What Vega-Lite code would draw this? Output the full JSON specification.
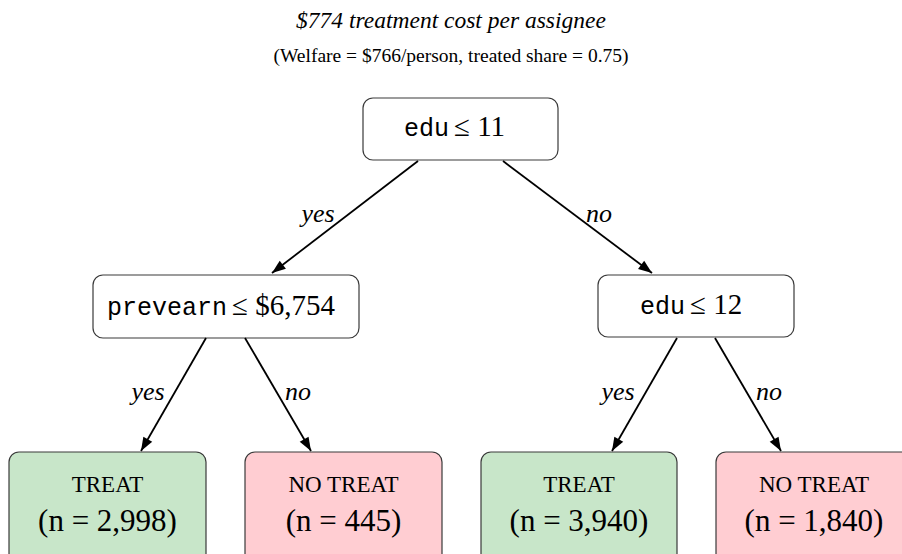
{
  "$schema": "https://vega.github.io/schema/vega-lite/v6.json",
  "width": 902,
  "height": 484,
  "autosize": {"type": "none"},
  "padding": {"left": 0, "right": 0, "top": 70, "bottom": 0},
  "background": "white",
  "title": {
    "text": "$774 treatment cost per assignee",
    "subtitle": "(Welfare = $766/person, treated share = 0.75)",
    "anchor": "middle",
    "frame": "group",
    "font": "Liberation Serif",
    "fontSize": 23.5,
    "fontStyle": "italic",
    "fontWeight": "normal",
    "color": "black",
    "subtitleFont": "Liberation Serif",
    "subtitleFontSize": 19.5,
    "subtitleColor": "black",
    "subtitlePadding": 14,
    "offset": 5
  },
  "config": {"view": {"stroke": null}},
  "datasets": {
    "nodes": [
      {"node": "root", "kind": "split", "x0": 363, "x1": 558, "y0": 98, "y1": 160, "lx": 450, "ly": 136, "var": "edu", "cond": "≤ 11"},
      {"node": "left", "kind": "split", "x0": 93, "x1": 359, "y0": 275, "y1": 338, "lx": 228, "ly": 315, "var": "prevearn", "cond": "≤ $6,754"},
      {"node": "right", "kind": "split", "x0": 598, "x1": 794, "y0": 275, "y1": 337, "lx": 686, "ly": 314, "var": "edu", "cond": "≤ 12"},
      {"node": "leaf1", "kind": "Treat", "x0": 9, "x1": 206, "y0": 452, "y1": 564, "cx": 107.5, "ly1": 492, "ly2": 531, "action": "TREAT", "count": "(n = 2,998)"},
      {"node": "leaf2", "kind": "No Treat", "x0": 245, "x1": 442, "y0": 452, "y1": 564, "cx": 343.5, "ly1": 492, "ly2": 531, "action": "NO TREAT", "count": "(n = 445)"},
      {"node": "leaf3", "kind": "Treat", "x0": 481, "x1": 677, "y0": 452, "y1": 564, "cx": 579, "ly1": 492, "ly2": 531, "action": "TREAT", "count": "(n = 3,940)"},
      {"node": "leaf4", "kind": "No Treat", "x0": 716, "x1": 912, "y0": 452, "y1": 564, "cx": 814, "ly1": 492, "ly2": 531, "action": "NO TREAT", "count": "(n = 1,840)"}
    ],
    "edges": [
      {"from": "root", "to": "left", "x1": 418, "y1": 161, "x2": 272, "y2": 273, "label": "yes", "tx": 318, "ty": 222},
      {"from": "root", "to": "right", "x1": 503, "y1": 161, "x2": 652, "y2": 273, "label": "no", "tx": 599, "ty": 222},
      {"from": "left", "to": "leaf1", "x1": 206, "y1": 338, "x2": 141, "y2": 451, "label": "yes", "tx": 148, "ty": 400},
      {"from": "left", "to": "leaf2", "x1": 245, "y1": 338, "x2": 311, "y2": 451, "label": "no", "tx": 298, "ty": 400},
      {"from": "right", "to": "leaf3", "x1": 677, "y1": 338, "x2": 612, "y2": 451, "label": "yes", "tx": 618, "ty": 400},
      {"from": "right", "to": "leaf4", "x1": 715, "y1": 338, "x2": 781, "y2": 451, "label": "no", "tx": 769, "ty": 400}
    ]
  },
  "layer": [
    {
      "data": {"name": "nodes"},
      "mark": {"type": "rect", "cornerRadius": 10, "stroke": "#3a3a3a", "strokeWidth": 1.2},
      "encoding": {
        "x": {"field": "x0", "type": "quantitative", "scale": {"domain": [0, 902], "nice": false, "zero": false}, "axis": null},
        "x2": {"field": "x1"},
        "y": {"field": "y0", "type": "quantitative", "scale": {"domain": [70, 554], "nice": false, "zero": false, "reverse": true}, "axis": null},
        "y2": {"field": "y1"},
        "fill": {"field": "kind", "type": "nominal", "scale": {"domain": ["split", "Treat", "No Treat"], "range": ["#ffffff", "#c8e6c9", "#ffcdd2"]}, "legend": null}
      }
    },
    {
      "data": {"name": "edges"},
      "mark": {"type": "rule", "color": "black", "strokeWidth": 1.8},
      "encoding": {
        "x": {"field": "x1", "type": "quantitative", "scale": {"domain": [0, 902], "nice": false, "zero": false}, "axis": null},
        "y": {"field": "y1", "type": "quantitative", "scale": {"domain": [70, 554], "nice": false, "zero": false, "reverse": true}, "axis": null},
        "x2": {"field": "x2"},
        "y2": {"field": "y2"}
      }
    },
    {
      "data": {"name": "edges"},
      "transform": [{"calculate": "atan2(datum.x2 - datum.x1, datum.y1 - datum.y2) * 180 / PI", "as": "ang"}],
      "mark": {"type": "point", "shape": "M0,0L0.6,1.6L-0.6,1.6Z", "filled": true, "color": "black", "opacity": 1, "size": 290, "strokeWidth": 0},
      "encoding": {
        "x": {"field": "x2", "type": "quantitative", "scale": {"domain": [0, 902], "nice": false, "zero": false}, "axis": null},
        "y": {"field": "y2", "type": "quantitative", "scale": {"domain": [70, 554], "nice": false, "zero": false, "reverse": true}, "axis": null},
        "angle": {"field": "ang", "type": "quantitative", "scale": null}
      }
    },
    {
      "data": {"name": "edges"},
      "mark": {"type": "text", "font": "Liberation Serif", "fontStyle": "italic", "fontSize": 26, "align": "center", "baseline": "alphabetic", "color": "black"},
      "encoding": {
        "x": {"field": "tx", "type": "quantitative", "scale": {"domain": [0, 902], "nice": false, "zero": false}, "axis": null},
        "y": {"field": "ty", "type": "quantitative", "scale": {"domain": [70, 554], "nice": false, "zero": false, "reverse": true}, "axis": null},
        "text": {"field": "label"}
      }
    },
    {
      "data": {"name": "nodes"},
      "transform": [{"filter": "datum.kind === 'split'"}],
      "mark": {"type": "text", "font": "Liberation Mono", "fontSize": 25, "align": "right", "baseline": "alphabetic", "color": "black", "dx": -1},
      "encoding": {
        "x": {"field": "lx", "type": "quantitative", "scale": {"domain": [0, 902], "nice": false, "zero": false}, "axis": null},
        "y": {"field": "ly", "type": "quantitative", "scale": {"domain": [70, 554], "nice": false, "zero": false, "reverse": true}, "axis": null},
        "text": {"field": "var"}
      }
    },
    {
      "data": {"name": "nodes"},
      "transform": [{"filter": "datum.kind === 'split'"}],
      "mark": {"type": "text", "font": "Liberation Serif", "fontSize": 29, "align": "left", "baseline": "alphabetic", "color": "black", "dx": 4},
      "encoding": {
        "x": {"field": "lx", "type": "quantitative", "scale": {"domain": [0, 902], "nice": false, "zero": false}, "axis": null},
        "y": {"field": "ly", "type": "quantitative", "scale": {"domain": [70, 554], "nice": false, "zero": false, "reverse": true}, "axis": null},
        "text": {"field": "cond"}
      }
    },
    {
      "data": {"name": "nodes"},
      "transform": [{"filter": "datum.kind !== 'split'"}],
      "mark": {"type": "text", "font": "Liberation Serif", "fontSize": 23, "align": "center", "baseline": "alphabetic", "color": "black"},
      "encoding": {
        "x": {"field": "cx", "type": "quantitative", "scale": {"domain": [0, 902], "nice": false, "zero": false}, "axis": null},
        "y": {"field": "ly1", "type": "quantitative", "scale": {"domain": [70, 554], "nice": false, "zero": false, "reverse": true}, "axis": null},
        "text": {"field": "action"}
      }
    },
    {
      "data": {"name": "nodes"},
      "transform": [{"filter": "datum.kind !== 'split'"}],
      "mark": {"type": "text", "font": "Liberation Serif", "fontSize": 31, "align": "center", "baseline": "alphabetic", "color": "black"},
      "encoding": {
        "x": {"field": "cx", "type": "quantitative", "scale": {"domain": [0, 902], "nice": false, "zero": false}, "axis": null},
        "y": {"field": "ly2", "type": "quantitative", "scale": {"domain": [70, 554], "nice": false, "zero": false, "reverse": true}, "axis": null},
        "text": {"field": "count"}
      }
    }
  ]
}
